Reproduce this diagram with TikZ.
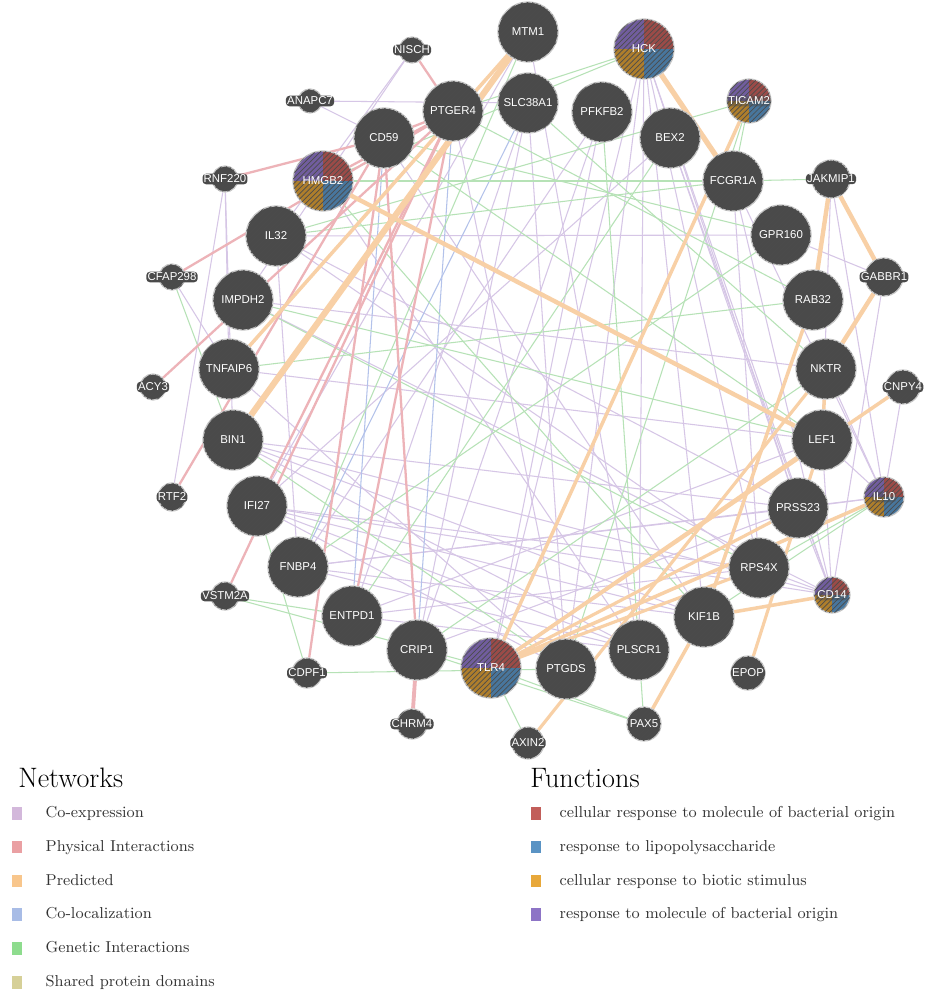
\documentclass[tikz,border=0pt]{standalone}
\usepackage{fontspec}
\newfontfamily\genefont{Liberation Sans}
\usetikzlibrary{backgrounds,patterns,positioning}
\definecolor{nodegray}{HTML}{4A4A4A}\definecolor{coexpcol}{HTML}{D6C6E6}\definecolor{physcol}{HTML}{EDB3B8}\definecolor{predcol}{HTML}{F8D0A6}
\definecolor{coloccol}{HTML}{B3C2EA}\definecolor{genecol}{HTML}{B6E2B6}
\definecolor{coexpkey}{HTML}{D3B8DB}\definecolor{physkey}{HTML}{EAA0A3}\definecolor{predkey}{HTML}{F8C68C}\definecolor{colockey}{HTML}{A8BCE6}\definecolor{genekey}{HTML}{8EDC8E}\definecolor{sharedkey}{HTML}{D6D098}
\definecolor{fnred}{HTML}{C25E5A}\definecolor{fnblue}{HTML}{5A93C4}\definecolor{fngold}{HTML}{E8A83A}\definecolor{fnpurple}{HTML}{8D74C6}
\tikzset{x=0.02cm,y=-0.02cm,genefnt/.style={font=\genefont\fontsize{6.5}{8}\selectfont},
ball/.style={circle,fill=nodegray,draw=gray!45,line width=0.7pt,inner sep=0pt,postaction={pattern=north east lines,pattern color=black!70}},
gene/.style={ball,minimum size=1.2cm,text=white,genefnt},
halo/.style={fill=nodegray,rounded corners=2pt,inner sep=0.7pt,text=white,genefnt},
dot/.style 2 args={ball,minimum size=#2,label={[halo]center:#1}},
pie/.style={path picture={\fill[fnpurple!80!black] (path picture bounding box.center) rectangle (path picture bounding box.north west);
 \fill[fnred!80!black] (path picture bounding box.center) rectangle (path picture bounding box.north east);
 \fill[fnblue!80!black] (path picture bounding box.center) rectangle (path picture bounding box.south east);
 \fill[fngold!75!black] (path picture bounding box.center) rectangle (path picture bounding box.south west);}},
dotpie/.style 2 args={ball,pie,minimum size=#2,label={[halo,fill opacity=.45,text opacity=1]center:#1}},
coexp/.style={draw=coexpcol,line width=0.6pt},coloc/.style={draw=coloccol,line width=0.6pt},genetic/.style={draw=genecol,line width=0.6pt},
phys/.style={draw=physcol,line width=1.3pt},pred/.style={draw=predcol,line width=#1},pred/.default=2pt,
keysq/.style={minimum width=0.2cm,minimum height=0.25cm,inner sep=0pt},keytxt/.style={font=\fontsize{9}{11}\selectfont,text=black!80,inner sep=0pt,anchor=west,text height=1.5ex,text depth=.4ex}}
\begin{document}
\begin{tikzpicture}
\useasboundingbox (0,0) rectangle (944,994);
% genes, top half
\node[gene] (MTM1) at (528,32) {MTM1};\node[gene,pie] (HCK) at (644,49) {HCK};\node[dot={NISCH}{.52cm}] (NISCH) at (412,50) {};
\node[dot={ANAPC7}{.48cm}] (ANAPC7) at (310,101) {};\node[gene] (PTGER4) at (453,111) {PTGER4};\node[gene] (SLC38A1) at (528,103) {SLC38A1};
\node[gene] (PFKFB2) at (602,112) {PFKFB2};\node[gene] (BEX2) at (670,138) {BEX2};\node[dotpie={TICAM2}{.88cm}] (TICAM2) at (749,101) {};
\node[gene] (CD59) at (384,138) {CD59};\node[gene,pie] (HMGB2) at (323,181) {HMGB2};\node[dot={RNF220}{.52cm}] (RNF220) at (225,179) {};
\node[gene] (FCGR1A) at (733,181) {FCGR1A};\node[dot={JAKMIP1}{.76cm}] (JAKMIP1) at (831,179) {};\node[gene] (IL32) at (276,236) {IL32};
\node[gene] (GPR160) at (781,235) {GPR160};\node[dot={CFAP298}{.52cm}] (CFAP298) at (172,277) {};\node[gene] (IMPDH2) at (243,300) {IMPDH2};
\node[dot={GABBR1}{.76cm}] (GABBR1) at (884,277) {};\node[gene] (RAB32) at (813,300) {RAB32};\node[gene] (TNFAIP6) at (229,369) {TNFAIP6};
\node[dot={ACY3}{.52cm}] (ACY3) at (153,387) {};\node[gene] (NKTR) at (826,369) {NKTR};\node[dot={CNPY4}{.68cm}] (CNPY4) at (903,387) {};
% genes, bottom half
\node[gene] (BIN1) at (233,440) {BIN1};\node[gene] (LEF1) at (822,440) {LEF1};\node[dot={RTF2}{.56cm}] (RTF2) at (172,497) {};
\node[gene] (IFI27) at (257,506) {IFI27};\node[dotpie={IL10}{.8cm}] (IL10) at (884,497) {};\node[gene] (PRSS23) at (798,508) {PRSS23};
\node[gene] (FNBP4) at (298,567) {FNBP4};\node[gene] (RPS4X) at (759,568) {RPS4X};\node[dotpie={CD14}{.72cm}] (CD14) at (832,595) {};
\node[dot={VSTM2A}{.56cm}] (VSTM2A) at (225,596) {};\node[gene] (ENTPD1) at (352,616) {ENTPD1};\node[gene] (KIF1B) at (704,617) {KIF1B};
\node[gene] (CRIP1) at (417,650) {CRIP1};\node[gene,pie] (TLR4) at (491,668) {TLR4};\node[gene] (PTGDS) at (566,669) {PTGDS};
\node[gene] (PLSCR1) at (639,650) {PLSCR1};\node[dot={EPOP}{.68cm}] (EPOP) at (748,673) {};\node[dot={CDPF1}{.6cm}] (CDPF1) at (307,673) {};
\node[dot={CHRM4}{.6cm}] (CHRM4) at (412,724) {};\node[dot={AXIN2}{.64cm}] (AXIN2) at (528,743) {};\node[dot={PAX5}{.68cm}] (PAX5) at (644,724) {};
% interactions
\begin{scope}[on background layer]
\fill[white] (0,0) rectangle (944,994);
\foreach \a/\b in {HCK/TLR4,HCK/PTGDS,HCK/PLSCR1,HCK/KIF1B,HCK/CD14,HCK/RPS4X,HCK/PRSS23,BEX2/CD14,BEX2/IFI27,BEX2/PRSS23,FCGR1A/CD14,FCGR1A/IL10,FCGR1A/RPS4X,
 SLC38A1/ENTPD1,SLC38A1/CRIP1,SLC38A1/PTGDS,PFKFB2/TLR4,PFKFB2/FNBP4,PFKFB2/CRIP1,MTM1/IFI27,MTM1/PLSCR1,NISCH/IL32,NISCH/IMPDH2,ANAPC7/CD59,ANAPC7/SLC38A1,
 RNF220/TNFAIP6,RNF220/RTF2,RNF220/BIN1,IL32/GPR160,IL32/PRSS23,IL32/RPS4X,IMPDH2/NKTR,IMPDH2/CD14,TNFAIP6/PTGDS,TNFAIP6/LEF1,BIN1/PRSS23,BIN1/KIF1B,BIN1/PLSCR1,
 IFI27/CD14,IFI27/PLSCR1,IFI27/RPS4X,FNBP4/PRSS23,FNBP4/IL10,ENTPD1/RPS4X,ENTPD1/LEF1,CRIP1/PRSS23,GPR160/GABBR1,NKTR/IL10,LEF1/IL10,LEF1/CD14,PRSS23/CD14,
 PRSS23/IL10,RPS4X/CD14,JAKMIP1/IL10,JAKMIP1/LEF1,GABBR1/CD14,CNPY4/IL10,PTGER4/PTGDS,CD59/KIF1B,HMGB2/PLSCR1,IL32/FNBP4,CFAP298/TNFAIP6,
 FNBP4/PLSCR1,FNBP4/KIF1B,ENTPD1/PLSCR1,IFI27/KIF1B,BIN1/CD14,IFI27/PTGDS}
 \draw[coexp] (\a)--(\b);
\foreach \a/\b in {CD59/ENTPD1,SLC38A1/FNBP4,PTGER4/CRIP1} \draw[coloc] (\a)--(\b);
\foreach \a/\b in {HCK/HMGB2,HCK/PTGER4,TICAM2/TLR4,TICAM2/FCGR1A,TICAM2/PTGDS,TICAM2/IL32,FCGR1A/HMGB2,JAKMIP1/FCGR1A,GPR160/CD59,RAB32/TNFAIP6,LEF1/IMPDH2,
 LEF1/TLR4,IL10/KIF1B,IL10/RPS4X,PAX5/CRIP1,PAX5/TLR4,PAX5/PLSCR1,AXIN2/TLR4,CDPF1/PTGDS,VSTM2A/ENTPD1,VSTM2A/TLR4,IFI27/CDPF1,CFAP298/BIN1,BIN1/PTGDS,
 SLC38A1/NKTR,PFKFB2/PLSCR1,MTM1/FNBP4,PTGER4/RAB32,CD59/LEF1,IL32/FCGR1A,BEX2/ENTPD1,GPR160/FNBP4,NKTR/CRIP1,RPS4X/IMPDH2,KIF1B/HMGB2}
 \draw[genetic] (\a)--(\b);
\foreach \a/\b in {NISCH/PTGER4,CD59/PTGER4,RNF220/CD59,CFAP298/PTGER4,ACY3/PTGER4,RTF2/CD59,VSTM2A/PTGER4,CDPF1/CD59,IFI27/PTGER4,CRIP1/CD59,ENTPD1/PTGER4,HMGB2/PTGER4}
 \draw[phys] (\a)--(\b);
\draw[phys,line width=2.2pt] (CRIP1)--(CHRM4);
\draw[pred=3.5pt] (MTM1)--(BIN1);\draw[pred] (MTM1)--(TNFAIP6);\draw[pred=3pt] (HCK)--(FCGR1A);\draw[pred=2.5pt] (HMGB2)--(LEF1);\draw[pred] (TICAM2)--(TLR4);
\draw[pred=2.5pt] (JAKMIP1)--(RAB32);\draw[pred=2.5pt] (JAKMIP1)--(GABBR1);\draw[pred=2.5pt] (GABBR1)--(NKTR);\draw[pred] (RAB32)--(KIF1B);\draw[pred] (NKTR)--(LEF1);
\draw[pred] (CNPY4)--(TLR4);\draw[pred] (IL10)--(TLR4);\draw[pred] (CD14)--(KIF1B);\draw[pred=1.8pt] (EPOP)--(LEF1);\draw[pred] (PAX5)--(KIF1B);
\draw[pred=1.8pt] (AXIN2)--(NKTR);\draw[pred=1.8pt] (TLR4)--(LEF1);\draw[pred=1.8pt] (TLR4)--(PRSS23);\draw[pred=1.8pt] (TLR4)--(RPS4X);
\end{scope}
% legend
\node[anchor=west,inner sep=0pt,font=\fontsize{16}{18}\selectfont] (nethead) at (18,778) {Networks};
\node[anchor=west,inner sep=0pt,font=\fontsize{16}{18}\selectfont] (fnhead) at (530,778) {Functions};
\foreach \c/\t [count=\i] in {coexpkey/Co-expression,physkey/Physical Interactions,predkey/Predicted,colockey/Co-localization,genekey/Genetic Interactions,sharedkey/Shared protein domains}
 {\node[keysq,fill=\c] (net\i) at (17,779.5+33.8*\i) {};\node[keytxt,right=0.46cm of net\i] (nettxt\i) {\t};}
\foreach \c/\t [count=\i] in {fnred/cellular response to molecule of bacterial origin,fnblue/response to lipopolysaccharide,fngold/cellular response to biotic stimulus,fnpurple/response to molecule of bacterial origin}
 {\node[keysq,fill=\c] (fn\i) at (536,779.5+33.8*\i) {};\node[keytxt,right=0.36cm of fn\i] (fntxt\i) {\t};}
\end{tikzpicture}
\end{document}
